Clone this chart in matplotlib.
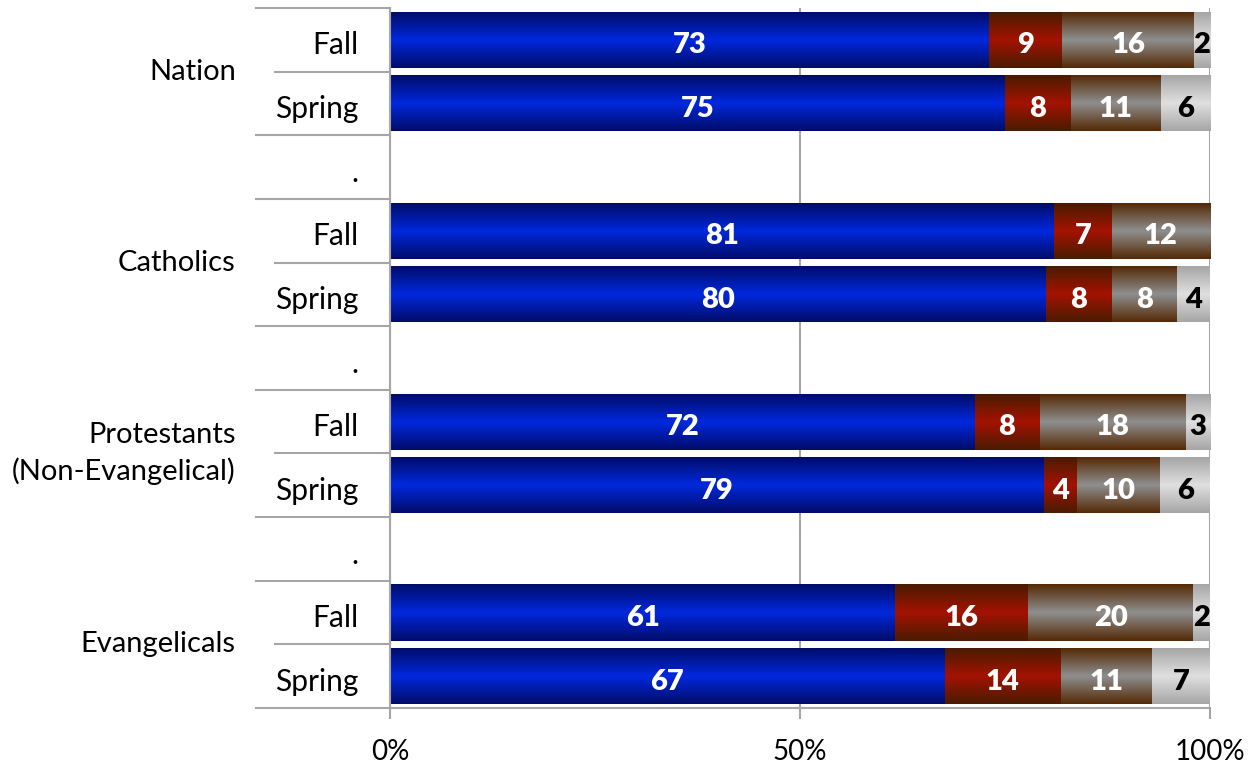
import numpy as np
import matplotlib
matplotlib.use('Agg')
from matplotlib import pyplot as plt

plt.rcParams['font.family'] = ['Lato', 'DejaVu Sans']

# DATA
groups = ['Nation', 'Catholics', 'Protestants\n(Non-Evangelical)', 'Evangelicals']
seasons = ['Fall', 'Spring']
blue = [73, 75, 81, 80, 72, 79, 61, 67]
red = [9, 8, 7, 8, 8, 4, 16, 14]
brown = [16, 11, 12, 8, 18, 10, 20, 11]
light = [2, 6, 0, 4, 3, 6, 2, 7]
x_ticks = [0, 50, 100]
x_ticklabels = ['0%', '50%', '100%']

# (edge colour, centre colour, label colour)
styles = [
    ('#000c6a', '#0028de', 'white'),
    ('#4a1c00', '#a41200', 'white'),
    ('#552a06', '#8f8f8f', 'white'),
    ('#a6a6a6', '#e0e0e0', 'black'),
]
grid_col = '#a6a6a6'


def gradient(edge, centre, n=64):
    e = np.array(matplotlib.colors.to_rgb(edge))
    c = np.array(matplotlib.colors.to_rgb(centre))
    t = 1 - np.abs(np.linspace(-1, 1, n))
    return (e[None, :] * (1 - t[:, None]) + c[None, :] * t[:, None])[:, None, :]


fig = plt.figure(figsize=(12.54, 7.63), dpi=100)
ax = fig.add_axes([390/1254, 1 - 708/763, 820/1254, 700/763])

rows = []
for g in range(len(groups)):
    for s in range(len(seasons)):
        rows.append(3*g + s)
rows = np.array(rows)

series = [blue, red, brown, light]
totals = np.sum(np.array(series, dtype=float), axis=0)
left = np.zeros(len(rows))
for vals, (edge, centre, tcol) in zip(series, styles):
    pct = np.array(vals) / totals * 100
    bars = ax.barh(rows, pct, left=left, height=0.88, color='none', linewidth=0)
    img = gradient(edge, centre)
    for b, v in zip(bars, vals):
        if v == 0:
            continue
        x0, y0, w, h = b.get_x(), b.get_y(), b.get_width(), b.get_height()
        ax.imshow(img, extent=(x0, x0 + w, y0 + h, y0), aspect='auto',
                  interpolation='bilinear', zorder=2)
        ax.text(x0 + w/2, y0 + h/2 + 0.05, str(v), ha='center', va='center_baseline',
                color=tcol, fontsize=21, fontweight='heavy', zorder=3)
    left = left + pct

ax.set_xlim(0, 100)
ax.set_ylim(10.5, -0.5)
ax.set_xticks(x_ticks)
ax.set_xticklabels(x_ticklabels, fontsize=20)
ax.set_yticks([])
ax.tick_params(axis='x', direction='out', length=8, width=1.5, color=grid_col, pad=14)
ax.xaxis.grid(True, color=grid_col, linewidth=1.5)
ax.set_axisbelow(True)
for sp in ['top', 'right']:
    ax.spines[sp].set_visible(False)
for sp in ['left', 'bottom']:
    ax.spines[sp].set_color(grid_col)
    ax.spines[sp].set_linewidth(1.5)

# two-level category axis
tr = ax.get_yaxis_transform()
inner_labels = []
for g in range(len(groups)):
    inner_labels += seasons
    if g < len(groups) - 1:
        inner_labels.append('.')
for i, lab in enumerate(inner_labels):
    ax.text(-0.038, i + 0.05, lab, transform=tr, ha='right', va='center_baseline',
            fontsize=21.5)
for g, lab in enumerate(groups):
    ax.text(-0.188, 3*g + 0.5, lab, transform=tr, ha='right', va='center',
            fontsize=21, linespacing=1.4)
for k in range(12):
    y = k - 0.5
    x_start = -0.14 if k % 3 == 1 else -0.163
    ax.plot([x_start, 0], [y, y], transform=tr, color=grid_col, lw=1.5,
            clip_on=False, zorder=1)

fig.savefig('out.png', dpi=100)
